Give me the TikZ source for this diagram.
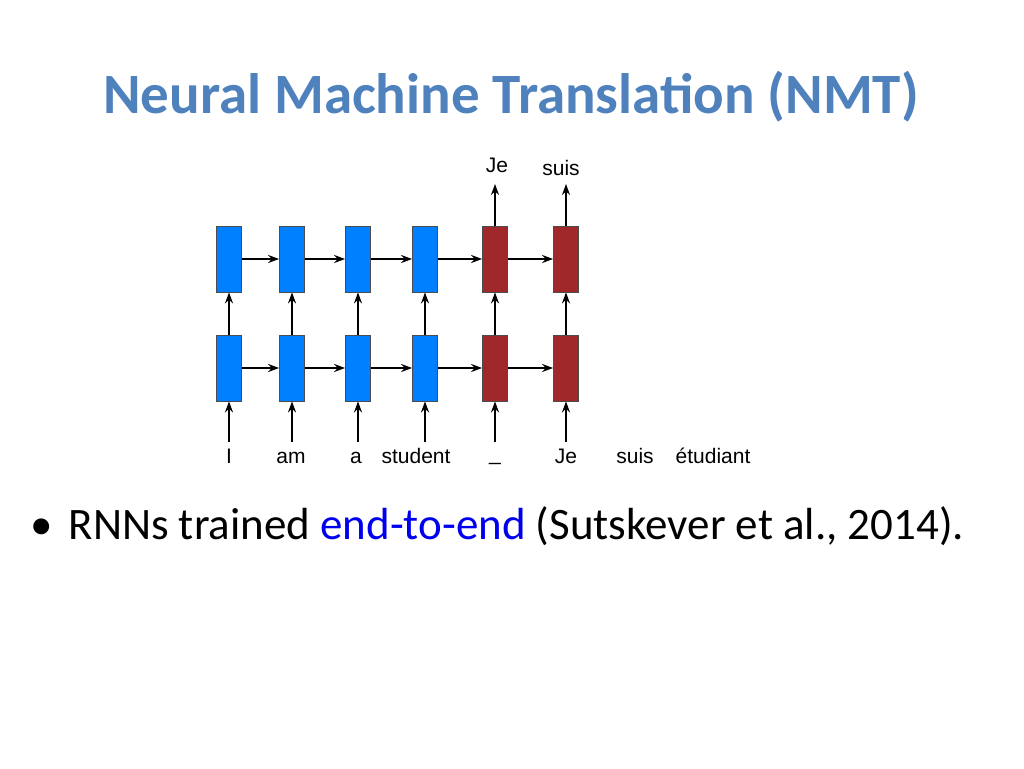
\documentclass[tikz,border=0pt]{standalone}
\usepackage{fontspec}
\usetikzlibrary{arrows.meta}
\setmainfont{Carlito}
\newfontfamily\arialf{Liberation Sans}
\definecolor{titleblue}{RGB}{79,129,189}
\definecolor{encblue}{RGB}{0,128,255}
\definecolor{decred}{RGB}{160,40,42}
\definecolor{linkblue}{RGB}{0,0,240}
\begin{document}
\begin{tikzpicture}[x=1pt,y=-1pt,
  cell/.style={draw=black!70,line width=0.8pt,minimum width=25pt,minimum height=66pt,inner sep=0},
  enc/.style={cell,fill=encblue},
  dec/.style={cell,fill=decred},
  lbl/.style={font=\arialf\fontsize{21}{24}\selectfont,inner sep=0,anchor=base},
  arr/.style={-{Stealth[length=11pt,width=8pt]},line width=2pt}]
\useasboundingbox (0,0) rectangle (1024,768);
\node[font=\bfseries\fontsize{57}{62}\selectfont,text=titleblue] (title) at (511,97) {Neural Machine Translation (NMT)};
\foreach \i/\x/\s in {1/229/enc,2/292/enc,3/358/enc,4/425/enc,5/495/dec,6/566/dec}{
  \node[\s] (t\i) at (\x,259) {};
  \node[\s] (b\i) at (\x,368) {};
  \coordinate (in\i) at (\x,442);
  \draw[arr] (in\i) -- (b\i.south);
  \draw[arr] (b\i.north) -- (t\i.south);
}
\foreach \i/\j in {1/2,2/3,3/4,4/5,5/6}{
  \draw[arr] (t\i.east) -- (t\j.west);
  \draw[arr] (b\i.east) -- (b\j.west);
}
\coordinate (o5) at (495,184);
\coordinate (o6) at (566,184);
\draw[arr] (t5.north) -- (o5);
\draw[arr] (t6.north) -- (o6);
\node[lbl] (oje) at (497,172) {Je};
\node[lbl] (osuis) at (561,175) {suis};
\node[lbl] (l1) at (229,463) {I};
\node[lbl] (l2) at (291,463) {am};
\node[lbl] (l3) at (356,463) {a};
\node[lbl] (l4) at (416,463) {student};
\node[lbl] (l5) at (495,460) {\_};
\node[lbl] (l6) at (566,463) {Je};
\node[lbl] (l7) at (635,463) {suis};
\node[lbl] (l8) at (713,463) {étudiant};
\node[anchor=base west,inner sep=0,font=\fontsize{45}{50}\selectfont] (bul) at (30,539) {\textbullet\hspace{16pt}RNNs trained \textcolor{linkblue}{end-to-end} (Sutskever et al., 2014).};
\end{tikzpicture}
\end{document}
